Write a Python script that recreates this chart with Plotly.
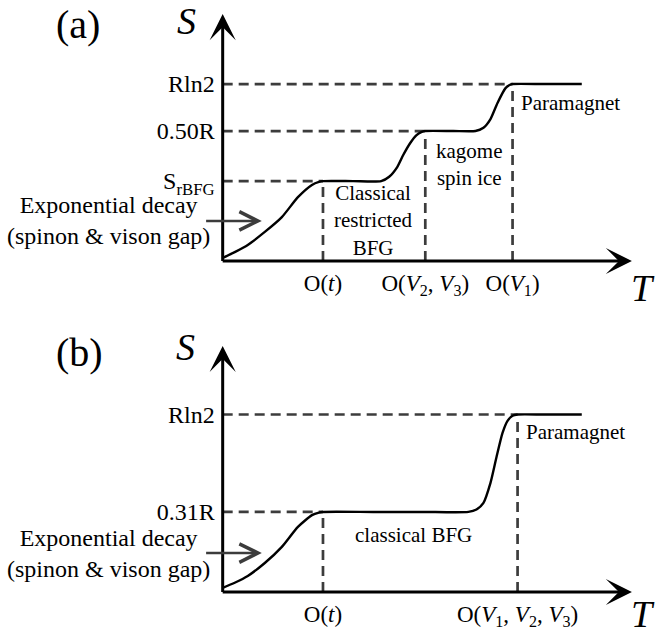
import plotly.graph_objects as go

# ---------------- data ----------------
# Panel (a)
a_curve_T = [0.0, 0.12, 0.25, 0.42, 0.59, 0.75, 0.89, 0.96, 1.0, 1.3, 1.58, 1.66, 1.74, 1.80, 1.87,
             1.93, 1.98, 2.02, 2.3, 2.52, 2.60, 2.67, 2.74, 2.82, 2.86, 2.89, 3.2, 3.58]
a_curve_S = [0.012, 0.035, 0.063, 0.114, 0.172, 0.25, 0.298, 0.310, 0.313, 0.313, 0.313, 0.330, 0.368,
             0.415, 0.462, 0.492, 0.505, 0.509, 0.509, 0.509, 0.522, 0.556, 0.619, 0.677, 0.689,
             0.693, 0.693, 0.693]
a_T_marks = [1.0, 2.02, 2.89]
a_T_labels = ["O(<i>t</i>)", "O(<i>V</i><sub>2</sub>, <i>V</i><sub>3</sub>)", "O(<i>V</i><sub>1</sub>)"]
a_S_levels = [0.313, 0.509, 0.693]
a_S_labels = ["S<sub>rBFG</sub>", "0.50R", "Rln2"]

# Panel (b)
b_curve_T = [0.0, 0.12, 0.25, 0.42, 0.59, 0.75, 0.89, 0.96, 1.0, 1.5, 2.0, 2.45, 2.53, 2.60, 2.67,
             2.73, 2.79, 2.84, 2.89, 2.94, 3.2, 3.58]
b_curve_S = [0.016, 0.036, 0.0625, 0.113, 0.176, 0.254, 0.30, 0.310, 0.3125, 0.3125, 0.3125, 0.3125,
             0.322, 0.348, 0.426, 0.527, 0.621, 0.668, 0.688, 0.693, 0.693, 0.693]
b_T_marks = [1.0, 2.94]
b_T_labels = ["O(<i>t</i>)", "O(<i>V</i><sub>1</sub>, <i>V</i><sub>2</sub>, <i>V</i><sub>3</sub>)"]
b_S_levels = [0.3125, 0.693]
b_S_labels = ["0.31R", "Rln2"]

# ---------------- styling / layout constants ----------------
W, H = 658, 637
SERIF = "Liberation Serif, Times New Roman, serif"
DASH_COLOR = "#3c3c3c"
X_RANGE = [-2.22, 4.34]
A_Y_RANGE = [-0.223, 1.022]
B_Y_RANGE = [-0.176, 1.070]
A_DOMAIN = [0.5008, 1.0]
B_DOMAIN = [0.0, 0.5008]
T_TIP = 4.08

fig = go.Figure()


def add_panel(xr, yr, curve_T, curve_S, T_marks, S_levels):
    # dashed guides: horizontal from S axis to the curve, vertical down to T axis
    for tm, lvl in zip(T_marks, S_levels):
        fig.add_trace(go.Scatter(x=[0, tm], y=[lvl, lvl], mode="lines", xaxis=xr, yaxis=yr,
                                 line=dict(color=DASH_COLOR, width=2.7, dash="10px,6px"),
                                 hoverinfo="skip", showlegend=False))
        fig.add_trace(go.Scatter(x=[tm, tm], y=[0, lvl - 0.012], mode="lines", xaxis=xr, yaxis=yr,
                                 line=dict(color=DASH_COLOR, width=2.7, dash="10px,6px"),
                                 hoverinfo="skip", showlegend=False))
    fig.add_trace(go.Scatter(x=curve_T, y=curve_S, mode="lines", xaxis=xr, yaxis=yr,
                             line=dict(color="black", width=2.4, shape="spline", smoothing=0.6),
                             hoverinfo="skip", showlegend=False))


# T mark i corresponds to the plateau level i reached there
add_panel("x", "y", a_curve_T, a_curve_S, a_T_marks, a_S_levels)
add_panel("x2", "y2", b_curve_T, b_curve_S, b_T_marks, b_S_levels)

annotations = []


def axis_arrows(xr, yr, s_tip, y_ptr):
    # T axis
    annotations.append(dict(x=T_TIP, y=0, ax=-0.015, ay=0, xref=xr, yref=yr, axref=xr, ayref=yr,
                            text="", showarrow=True, arrowhead=3, arrowwidth=3, arrowsize=1.45,
                            arrowcolor="black"))
    # S axis
    annotations.append(dict(x=0, y=s_tip, ax=0, ay=-0.006, xref=xr, yref=yr, axref=xr, ayref=yr,
                            text="", showarrow=True, arrowhead=3, arrowwidth=3, arrowsize=1.45,
                            arrowcolor="black"))
    # exponential decay pointer
    annotations.append(dict(x=0.39, y=y_ptr, ax=-0.18, ay=y_ptr, xref=xr, yref=yr, axref=xr, ayref=yr,
                            text="", showarrow=True, arrowhead=5, arrowwidth=2.5, arrowsize=1.45,
                            arrowcolor=DASH_COLOR))
    annotations.append(dict(x=-1.134, y=y_ptr, xref=xr, yref=yr, showarrow=False,
                            xanchor="center", yanchor="middle",
                            text="Exponential decay<br>(spinon &amp; vison gap)", align="center",
                            font=dict(family=SERIF, size=24, color="black")))


axis_arrows("x", "y", 0.967, 0.157)
axis_arrows("x2", "y2", 0.961, 0.152)

lbl = dict(family=SERIF, size=21, color="black")
big = dict(family=SERIF, size=40, color="black")
ital = dict(family=SERIF, size=38, color="black")


def paper_text(px, py, text, font, yanchor="middle"):
    return dict(x=px / W, y=1 - py / H, xref="paper", yref="paper", showarrow=False, text=text,
                font=font, xanchor="center", yanchor=yanchor)


annotations += [
    dict(x=1.50, y=0.157, xref="x", yref="y", showarrow=False, text="Classical<br>restricted<br>BFG",
         font=lbl, align="center", xanchor="center", yanchor="middle"),
    dict(x=2.46, y=0.378, xref="x", yref="y", showarrow=False, text="kagome<br>spin ice",
         font=lbl, align="center", xanchor="center", yanchor="middle"),
    dict(x=2.95, y=0.619, xref="x", yref="y", showarrow=False, text="Paramagnet",
         font=lbl, xanchor="left", yanchor="middle"),
    dict(x=1.90, y=0.223, xref="x2", yref="y2", showarrow=False, text="classical BFG",
         font=lbl, align="center", xanchor="center", yanchor="middle"),
    dict(x=3.00, y=0.625, xref="x2", yref="y2", showarrow=False, text="Paramagnet",
         font=lbl, xanchor="left", yanchor="middle"),
    paper_text(77.5, 24, "(a)", big),
    paper_text(79, 352, "(b)", big),
    paper_text(186, 21, "<i>S</i>", ital),
    paper_text(185, 347, "<i>S</i>", ital),
    paper_text(643, 288, "<i>T</i>", ital),
    paper_text(643, 637, "<i>T</i>", ital, yanchor="bottom"),
]

common_x = dict(range=X_RANGE, showgrid=False, zeroline=False, showline=False, ticks="",
                tickfont=dict(family=SERIF, size=23, color="black"), ticklabelstandoff=6,
                anchor="free", fixedrange=True, domain=[0, 1])
common_y = dict(showgrid=False, zeroline=False, showline=False, ticks="",
                tickfont=dict(family=SERIF, size=24, color="black"), ticklabelstandoff=8,
                anchor="free", position=222.7 / W, fixedrange=True)

fig.update_layout(
    width=W, height=H, margin=dict(l=0, r=0, t=0, b=0),
    paper_bgcolor="white", plot_bgcolor="white", showlegend=False,
    xaxis=dict(common_x, position=1 - 261 / H,
               tickmode="array", tickvals=a_T_marks, ticktext=a_T_labels),
    yaxis=dict(common_y, domain=A_DOMAIN, range=A_Y_RANGE,
               tickmode="array", tickvals=a_S_levels, ticktext=a_S_labels),
    xaxis2=dict(common_x, position=1 - 592 / H,
                tickmode="array", tickvals=b_T_marks, ticktext=b_T_labels),
    yaxis2=dict(common_y, domain=B_DOMAIN, range=B_Y_RANGE,
                tickmode="array", tickvals=b_S_levels, ticktext=b_S_labels),
    annotations=annotations,
)

fig.write_html("out.html")
